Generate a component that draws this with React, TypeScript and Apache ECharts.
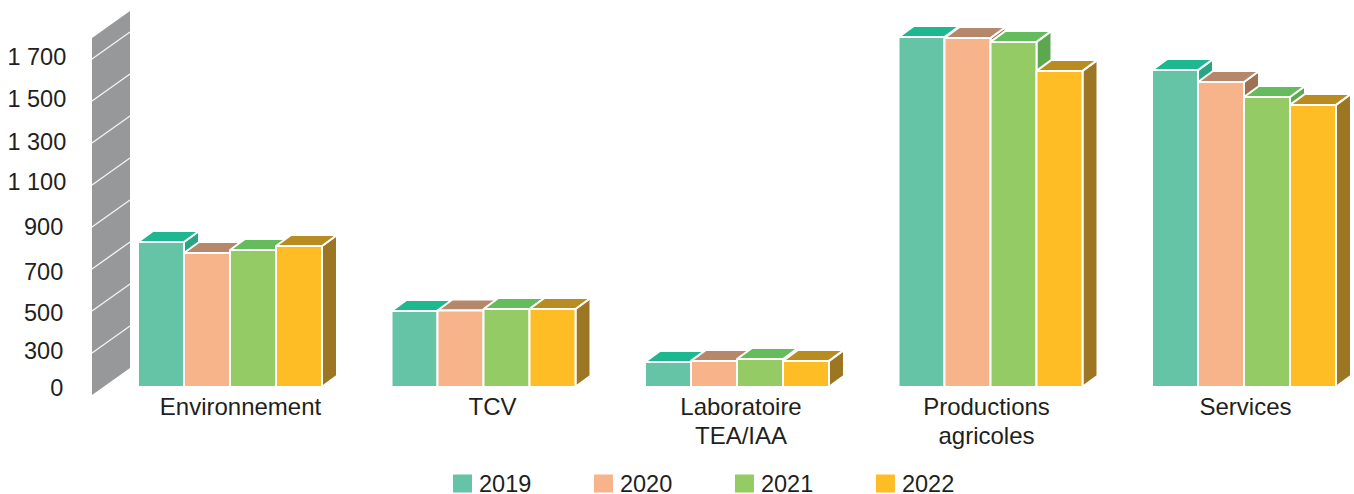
import React, { useEffect, useRef } from "react";
import * as echarts from "echarts";

const categories = ["Environnement", "TCV", "Laboratoire\nTEA/IAA", "Productions\nagricoles", "Services"];
const years = ["2019", "2020", "2021", "2022"];
const values2019 = [814, 486, 243, 1790, 1633];
const values2020 = [762, 488, 248, 1786, 1576];
const values2021 = [776, 495, 257, 1767, 1505];
const values2022 = [795, 495, 248, 1629, 1467];
const seriesValues = [values2019, values2020, values2021, values2022];
const wallLevels = [100, 300, 500, 700, 900, 1100, 1300, 1500, 1700];
const wallTop = 1800;
const barBase = 129;

const frontColors = ["#64c4a5", "#f7b48b", "#94cb64", "#febc25"];
const topColors = ["#1db88f", "#b5886b", "#64bc5c", "#b98c22"];
const sideColors = ["#2aa582", "#9c7354", "#5ca84e", "#9c7622"];

const FONT = "'Liberation Sans', Arial, sans-serif";
const TEXT = "#231f20";
const FS = 23.5;
const FSX = 24;
const DX = 15;
const DY = -11;
const STEP = 46;
const labelShiftY: Record<number, number> = { 100: -5, 300: 0, 500: 4, 700: 5, 900: 2, 1100: -1, 1300: 1, 1500: 0, 1700: 0 };
const labelShiftX = [10.5, 9, 4, -4, 1.5];

const yRich: Record<string, any> = { gap: { width: 3, fontSize: FS } };
Object.keys(labelShiftY).forEach((k) => {
  const s = labelShiftY[+k];
  yRich["v" + k] = {
    fontFamily: FONT, fontSize: FS, color: TEXT,
    padding: s > 0 ? [2 * s, 0, 0, 0] : [0, 0, -2 * s, 0],
  };
});
const xRich: Record<string, any> = {};
labelShiftX.forEach((s, i) => {
  xRich["c" + i] = {
    fontFamily: FONT, fontSize: FSX, color: TEXT, lineHeight: 29,
    padding: s > 0 ? [0, 0, 0, 2 * s] : [0, -2 * s, 0, 0],
  };
});

function renderWall(params: any, api: any) {
  const v = api.value(1);
  const cs = params.coordSys;
  const x0 = cs.x - 11.25;
  const w = 38;
  const rise = 27;
  const yAt = (val: number) => api.coord([0, val])[1] + 2;
  const children: any[] = [];
  if (params.dataIndex === 0) {
    children.push({
      type: "polygon",
      shape: {
        points: [
          [x0, yAt(wallLevels[0])],
          [x0 + w, yAt(wallLevels[0]) - rise],
          [x0 + w, yAt(wallTop) - rise],
          [x0, yAt(wallTop)],
        ],
      },
      style: { fill: "#96989a" },
    });
  }
  if (params.dataIndex > 0) {
    children.push({
      type: "line",
      shape: { x1: x0, y1: yAt(v), x2: x0 + w, y2: yAt(v) - rise },
      style: { stroke: "#f2f2f2", lineWidth: 1.4, fill: null },
    });
  }
  return { type: "group", children };
}

function makeBarRenderer(i: number) {
  return (_params: any, api: any) => {
    const p = api.coord([api.value(0), api.value(1)]);
    const base = api.coord([api.value(0), barBase])[1];
    const x = p[0] - 92 + i * STEP;
    const w = STEP;
    const y = p[1] - 1;
    const stroke = { stroke: "#ffffff", lineWidth: 2, lineJoin: "bevel" };
    return {
      type: "group",
      children: [
        {
          type: "polygon",
          shape: { points: [[x + w, y], [x + w + DX, y + DY], [x + w + DX, base + DY], [x + w, base]] },
          style: { fill: sideColors[i], ...stroke },
        },
        {
          type: "polygon",
          shape: { points: [[x, y], [x + DX, y + DY], [x + w + DX, y + DY], [x + w, y]] },
          style: { fill: topColors[i], ...stroke },
        },
        {
          type: "rect",
          shape: { x, y, width: w, height: base - y },
          style: { fill: frontColors[i], ...stroke },
        },
      ],
    };
  };
}

export default function App() {
  const ref = useRef<HTMLDivElement>(null);
  useEffect(() => {
    document.body.style.margin = "0";
    const chart = echarts.init(ref.current!, undefined, { renderer: "svg" });
    chart.setOption({
      animation: false,
      backgroundColor: "#ffffff",
      color: frontColors,
      tooltip: { show: false },
      grid: { left: 103.25, top: 15, width: 1267.5, height: 378, containLabel: false, outerBoundsMode: "none" },
      legend: {
        data: years,
        left: 453,
        top: 471.5,
        icon: "rect",
        itemWidth: 19,
        itemHeight: 18,
        itemGap: 62.7,
        padding: 0,
        selectedMode: false,
        textStyle: { fontFamily: FONT, fontSize: FS, color: TEXT, lineHeight: 20, padding: [0, 0, 0, 2] },
      },
      xAxis: {
        type: "category",
        data: categories,
        axisLine: { show: false },
        axisTick: { show: false },
        splitLine: { show: false },
        axisLabel: {
          interval: 0,
          margin: -1,
          rich: xRich,
          fontFamily: FONT,
          fontSize: FSX,
          color: TEXT,
          formatter: (value: string, index: number) =>
            value.split("\n").map((l) => `{c${index}|${l}}`).join("\n"),
        },
      },
      yAxis: {
        type: "value",
        min: 100,
        max: 1900,
        interval: 100,
        axisLine: { show: false },
        axisTick: { show: false },
        splitLine: { show: false },
        axisLabel: {
          margin: 37,
          rich: yRich,
          fontFamily: FONT,
          fontSize: FS,
          color: TEXT,
          formatter: (v: number) => {
            if (!wallLevels.includes(v)) return "";
            const t = v === 100 ? "0" : v >= 1000 ? `${Math.floor(v / 1000)} ${String(v % 1000).padStart(3, "0")}` : String(v);
            return v >= 1000 ? `{v${v}|${t}}` : `{v${v}|${t}}{gap|}`;
          },
        },
      },
      series: [
        {
          type: "custom",
          name: "wall",
          silent: true,
          clip: false,
          encode: { x: 0, y: 1 },
          renderItem: renderWall,
          data: wallLevels.map((v) => [0, v]),
        },
        ...years.map((y, i) => ({
          type: "custom",
          name: y,
          clip: false,
          color: frontColors[i],
          itemStyle: { color: frontColors[i] },
          encode: { x: 0, y: 1 },
          renderItem: makeBarRenderer(i),
          data: seriesValues[i].map((v, c) => [c, v]),
        })),
      ],
    });
    return () => chart.dispose();
  }, []);
  return <div ref={ref} style={{ width: 1354, height: 494 }} />;
}
